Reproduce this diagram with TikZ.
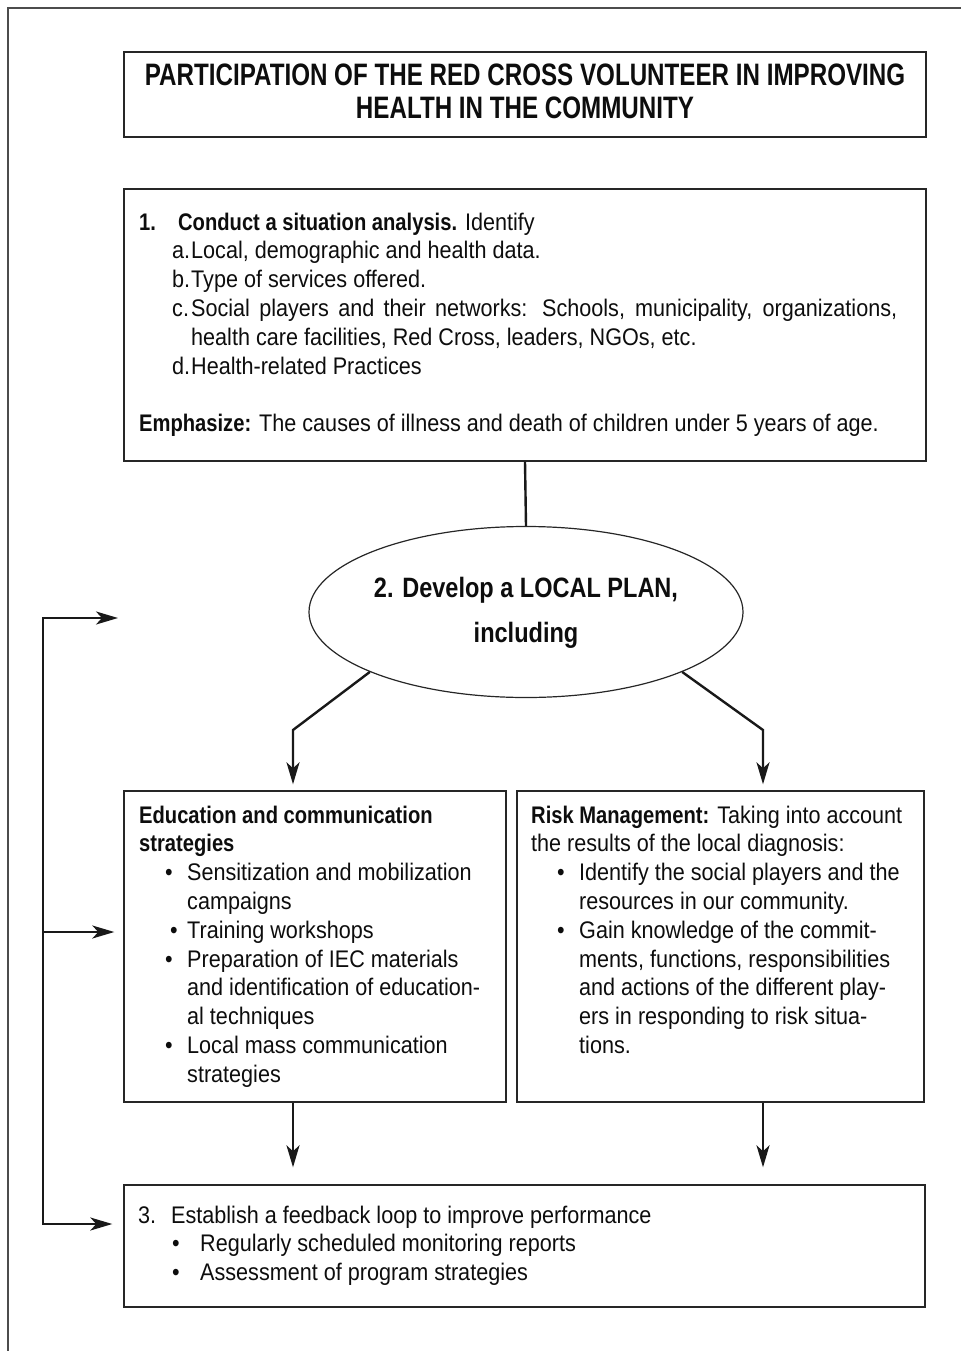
\documentclass[tikz,border=0pt]{standalone}
\usepackage{fontspec}
\setmainfont{Liberation Sans}[FakeStretch=0.9]
\newfontfamily\boldfam{Liberation Sans}[FakeStretch=0.84]
\newfontfamily\titlefam{Liberation Sans}[FakeStretch=0.78]
\usetikzlibrary{arrows.meta,shapes.geometric}
\newcommand\hd[1]{{\boldfam\bfseries #1}}
\newcommand\itm{\hspace*{26pt}\makebox[22pt][l]{•}}
\newcommand\ind{\hspace*{52pt}}
\newcommand\lbl[1]{\hspace*{33pt}\makebox[19pt][l]{#1}}
\begin{document}
\begin{tikzpicture}[x=1pt, y=-1pt]
      \tikzset{
	  box/.style={draw=black!85, line width=1.4pt, inner sep=0pt},
	  txt/.style={align=left, anchor=north west, inner sep=0pt, text=black!95, font=\fontsize{24}{28.8}\selectfont},
	  line/.style={draw=black!90, line width=2.4pt},
	  arr/.style={line, -{Stealth[length=22pt,width=13pt,inset=6pt]}}
      }
      \useasboundingbox (0,0) rectangle (961,1351);
      \draw[draw=black!70, line width=1.3pt] (8,1351) -- (8,8) -- (961,8);

      % boxes
      \node[box, minimum width=802pt, minimum height=85pt] (title) at (525,94.5) {};
      \node[box, minimum width=802pt, minimum height=272pt] (sit) at (525,325) {};
      \node[box, ellipse, line width=1.2pt, minimum width=434pt, minimum height=171pt] (plan) at (526,612) {};
      \node[box, minimum width=382pt, minimum height=311pt] (edu) at (315,946.5) {};
      \node[box, minimum width=407pt, minimum height=311pt] (risk) at (720.5,946.5) {};
      \node[box, minimum width=801pt, minimum height=122pt] (fb) at (524.5,1246) {};

      % texts
      \node[align=center, anchor=north, inner sep=0pt, text=black!95, font=\titlefam\bfseries\fontsize{31}{33}\selectfont] (titletxt) at (525,61.9)
        {\strut PARTICIPATION OF THE RED CROSS VOLUNTEER IN IMPROVING\\HEALTH IN THE COMMUNITY};
      \node[txt] (sittxt) at (139,209.8) {\strut\makebox[39pt][l]{\hd{1.}}\hd{Conduct a situation analysis.} Identify\\
        \lbl{a.}Local, demographic and health data.\\
        \lbl{b.}Type of services offered.\\
        \lbl{c.}\makebox[706pt][s]{Social players and their networks: Schools, municipality, organizations,}\\
        \ind health care facilities, Red Cross, leaders, NGOs, etc.\\
        \lbl{d.}Health-related Practices\\
        \\
        \hd{Emphasize:} The causes of illness and death of children under 5 years of age.};
      \node[align=center, anchor=north, inner sep=0pt, text=black!95, font=\boldfam\bfseries\fontsize{28}{45}\selectfont] (plantxt) at (526,565.5)
        {\strut 2. Develop a LOCAL PLAN,\\including};
      \node[txt] (edutxt) at (139,802.8) {\strut\hd{Education and communication}\\
        \hd{strategies}\\
        \itm Sensitization and mobilization\\
        \hspace*{48pt}campaigns\\
        \hspace*{31pt}\makebox[17pt][l]{•}Training workshops\\
        \itm Preparation of IEC materials\\
        \hspace*{48pt}and identification of education-\\
        \hspace*{48pt}al techniques\\
        \itm Local mass communication\\
        \hspace*{48pt}strategies};
      \node[txt] (risktxt) at (531,802.8) {\strut\hd{Risk Management:} Taking into account\\
        the results of the local diagnosis:\\
        \itm Identify the social players and the\\
        \hspace*{48pt}resources in our community.\\
        \itm Gain knowledge of the commit-\\
        \hspace*{48pt}ments, functions, responsibilities\\
        \hspace*{48pt}and actions of the different play-\\
        \hspace*{48pt}ers in responding to risk situa-\\
        \hspace*{48pt}tions.};
      \node[txt] (fbtxt) at (138,1202.8) {\strut\makebox[33pt][l]{3.}Establish a feedback loop to improve performance\\
        \hspace*{34pt}\makebox[28pt][l]{•}Regularly scheduled monitoring reports\\
        \hspace*{34pt}\makebox[28pt][l]{•}Assessment of program strategies};

      % connectors
      \coordinate (lbend) at (293,730);
      \coordinate (rbend) at (763,730);
      \coordinate (ltop) at (43,618);
      \coordinate (lmid) at (43,932);
      \coordinate (lbot) at (43,1224);
      \coordinate (ptip) at (118,618);

      \draw[line] (sit.south) -- (plan.north);
      \draw[arr, shorten >=6pt] (plan.-159) -- (lbend) -- (lbend |- edu.north);
      \draw[arr, shorten >=6pt] (plan.-21) -- (rbend) -- (rbend |- risk.north);
      \draw[arr, shorten >=17pt] (edu.south -| lbend) -- (fb.north -| lbend);
      \draw[arr, shorten >=17pt] (risk.south -| rbend) -- (fb.north -| rbend);

      \draw[arr] (lbot) -- (ltop) -- (ptip);
      \draw[arr, shorten >=11pt] (ltop) -- (lbot) -- (lbot -| fb.west);
      \draw[arr, shorten >=9pt] (lmid) -- (lmid -| edu.west);
\end{tikzpicture}
\end{document}
